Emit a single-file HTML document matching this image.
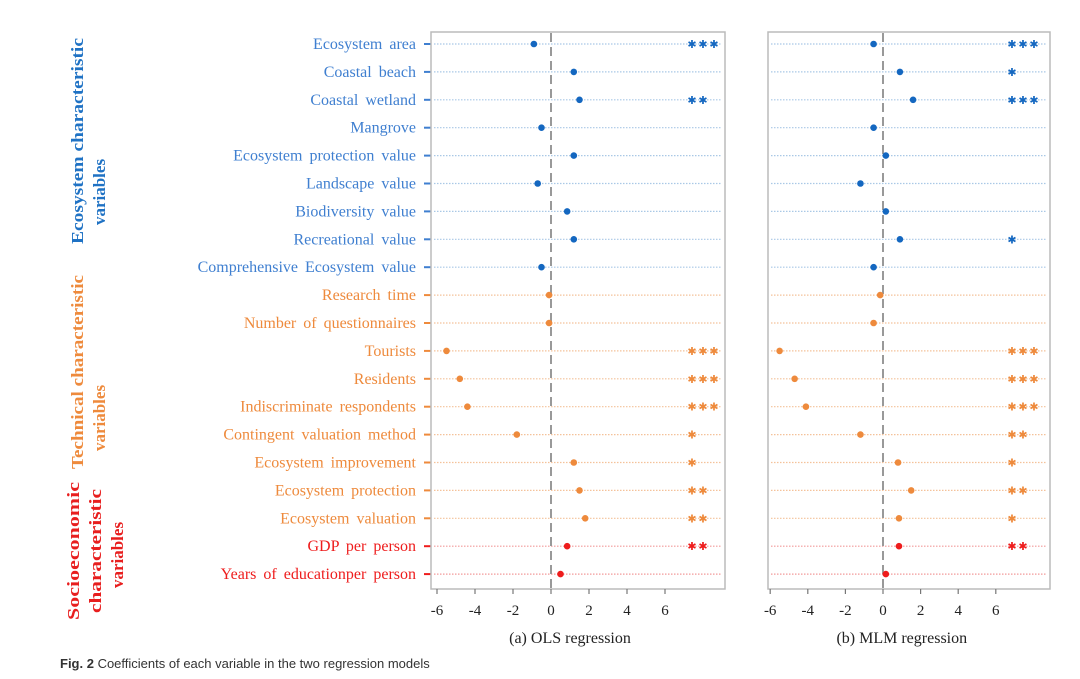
<!DOCTYPE html>
<html><head><meta charset="utf-8"><style>
html,body{margin:0;padding:0;background:#fff;}
svg{display:block;font-family:"Liberation Serif",serif;}
</style></head><body>
<svg id="chart" width="1080" height="679" viewBox="0 0 1080 679" xmlns="http://www.w3.org/2000/svg">
<g font-weight="bold" font-size="17">
<text transform="translate(83,141) rotate(-90)" text-anchor="middle" fill="#1f72c4" textLength="206" lengthAdjust="spacingAndGlyphs">Ecosystem characteristic</text>
<text transform="translate(105,192) rotate(-90)" text-anchor="middle" fill="#1f72c4">variables</text>
<text transform="translate(83,372) rotate(-90)" text-anchor="middle" fill="#ee8a3c" textLength="194" lengthAdjust="spacingAndGlyphs">Technical characteristic</text>
<text transform="translate(105,418) rotate(-90)" text-anchor="middle" fill="#ee8a3c">variables</text>
<text transform="translate(79,551) rotate(-90)" text-anchor="middle" fill="#e81e1e" textLength="138" lengthAdjust="spacingAndGlyphs">Socioeconomic</text>
<text transform="translate(101,551) rotate(-90)" text-anchor="middle" fill="#e81e1e" textLength="124" lengthAdjust="spacingAndGlyphs">characteristic</text>
<text transform="translate(123,555) rotate(-90)" text-anchor="middle" fill="#e81e1e">variables</text>
</g>
<g id="labels"></g>
<g id="p1"></g><g id="p2"></g>
<text x="60" y="668" font-family="Liberation Sans, sans-serif" font-size="13" fill="#333"><tspan font-weight="bold">Fig. 2</tspan>  Coefficients of each variable in the two regression models</text>
</svg>
<script>
const categories=["Ecosystem area","Coastal beach","Coastal wetland","Mangrove","Ecosystem protection value","Landscape value","Biodiversity value","Recreational value","Comprehensive Ecosystem value","Research time","Number of questionnaires","Tourists","Residents","Indiscriminate respondents","Contingent valuation method","Ecosystem improvement","Ecosystem protection","Ecosystem valuation","GDP per person","Years of educationper person"];
const groups=["e","e","e","e","e","e","e","e","e","t","t","t","t","t","t","t","t","t","s","s"];
const olsValues=[-0.9,1.2,1.5,-0.5,1.2,-0.7,0.85,1.2,-0.5,-0.1,-0.1,-5.5,-4.8,-4.4,-1.8,1.2,1.5,1.8,0.85,0.5];
const mlmValues=[-0.5,0.9,1.6,-0.5,0.15,-1.2,0.15,0.9,-0.5,-0.15,-0.5,-5.5,-4.7,-4.1,-1.2,0.8,1.5,0.85,0.85,0.15];
const olsStars=[3,0,2,0,0,0,0,0,0,0,0,3,3,3,1,1,2,2,2,0];
const mlmStars=[3,1,3,0,0,0,0,1,0,0,0,3,3,3,2,1,2,1,2,0];
const tickValues=[-6,-4,-2,0,2,4,6];
const panelTitles=["(a) OLS regression","(b) MLM regression"];
const NS="http://www.w3.org/2000/svg";
const dotCol={e:"#1467c0",t:"#ee8a3c",s:"#ee1c1c"};
const labCol={e:"#3f7fd0",t:"#ee8a3c",s:"#ee1c1c"};
const lineCol={e:"#a9c8e6",t:"#f4c29a",s:"#f29a9a"};
const y=i=>44+i*27.9;
function mk(p,tag,a){const e=document.createElementNS(NS,tag);for(const k in a)e.setAttribute(k,a[k]);p.appendChild(e);return e;}
const lab=document.getElementById('labels');
categories.forEach((c,i)=>{
 const t=mk(lab,'text',{x:416,y:y(i)+5,'text-anchor':'end','font-size':16,'word-spacing':'3',fill:labCol[groups[i]]});
 
 
 t.textContent=c;
 const tk=mk(lab,'line',{x1:424,x2:431,y1:y(i),y2:y(i),stroke:labCol[groups[i]],'stroke-width':2});
 
 
});
function panel(id,L,R,x0,unit,vals,stars,starX,title){
 const g=document.getElementById(id);
 const X=v=>x0+v*unit;
 const fr=mk(g,'rect',{x:L,y:32,width:R-L,height:557,fill:'none',stroke:'#bbb','stroke-width':1.5});
 
 
 categories.forEach((c,i)=>{
  const l=mk(g,'line',{x1:L+3,x2:R-4,y1:y(i),y2:y(i),stroke:lineCol[groups[i]],'stroke-width':1.2,'stroke-dasharray':'1.5 1.5'});
  
  
 });
 const z=mk(g,'line',{x1:X(0),x2:X(0),y1:33,y2:588,stroke:'#999','stroke-width':2,'stroke-dasharray':'9 5'});
 
 
 vals.forEach((v,i)=>{
  const d=mk(g,'circle',{cx:X(v),cy:y(i),r:3.3,fill:dotCol[groups[i]]});
  
  
  for(let k=0;k<stars[i];k++){
   const s=mk(g,'text',{x:starX+k*11,y:y(i)+4,'text-anchor':'middle','font-size':11,'font-weight':'bold',fill:dotCol[groups[i]],'font-family':'DejaVu Sans, sans-serif'});
   
   
   s.textContent='\u2731';
  }
 });
 tickValues.forEach(t=>{
  const tl=mk(g,'line',{x1:X(t),x2:X(t),y1:589,y2:594,stroke:'#777','stroke-width':1.2});
  
  
  const tt=mk(g,'text',{x:X(t),y:615,'text-anchor':'middle','font-size':15,fill:'#222'});
  
  
  tt.textContent=t;
 });
 const ti=mk(g,'text',{x:x0+1*unit,y:643,'text-anchor':'middle','font-size':16,fill:'#222'});
 
 
 ti.textContent=title;
}
panel('p1',431,725,551,19,olsValues,olsStars,692,panelTitles[0]);
panel('p2',768,1050,883,18.8,mlmValues,mlmStars,1012,panelTitles[1]);
</script>
</body></html>
